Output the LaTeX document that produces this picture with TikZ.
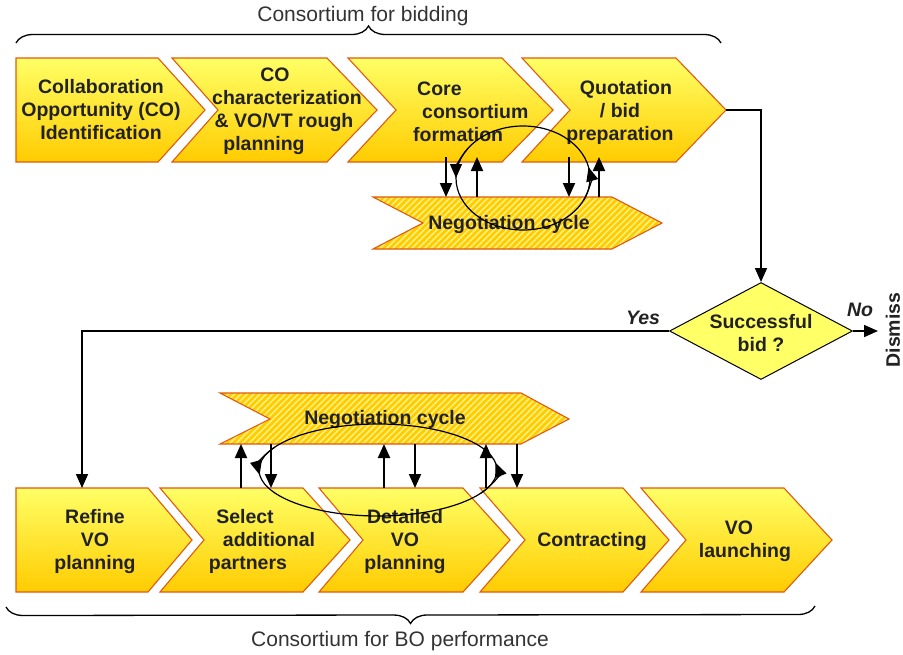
\documentclass[tikz,border=0pt]{standalone}
\usepackage{fontspec}
\setmainfont{Liberation Sans}
\usetikzlibrary{arrows.meta,shapes.geometric,patterns.meta,decorations.pathreplacing,calc}
\definecolor{chevtop}{HTML}{FFFF66}
\definecolor{chevmid}{HTML}{FFEE33}
\definecolor{chevbot}{HTML}{FFCC00}
\definecolor{chevline}{HTML}{E05A10}
\definecolor{txt}{HTML}{222222}
\definecolor{hatchbg}{HTML}{FFCC00}
\definecolor{hatchln}{HTML}{FFF080}
\definecolor{diafill}{HTML}{FFFF66}
\definecolor{labtxt}{HTML}{333333}
\begin{document}
\begin{tikzpicture}[x=1pt,y=-1pt,
  chev/.style={draw=chevline, line width=1.1pt, top color=chevtop, middle color=chevmid, bottom color=chevbot, line join=miter},
  hatchfill/.style={fill=hatchbg},
  hatchlines/.style={pattern={Lines[angle=45,distance=4.5pt,line width=1.6pt]}, pattern color=hatchln},
  hatchedge/.style={draw=chevline, line width=1.1pt},
  lbl/.style={font=\fontsize{19.5}{23}\selectfont\bfseries, text=txt, align=center, inner sep=0pt},
  captext/.style={font=\fontsize{21}{25}\selectfont, text=labtxt, inner sep=0pt},
  flow/.style={draw=black, line width=1.6pt},
  flowarrow/.style={flow, -{Triangle[length=14pt,width=12pt]}},
  varrow/.style={draw=black, line width=2pt, -{Triangle[length=14pt,width=12pt]}},
  cyc/.style={ellipse, draw=black, line width=1.2pt, inner sep=0pt},
  eltip/.style={draw=black, line width=1.2pt, -{Triangle[length=14pt,width=12pt]}},
  bracestyle/.style={draw=black, line width=1.3pt, decorate, decoration={brace, amplitude=17pt}}
]
\useasboundingbox (0,0) rectangle (903,654);

% ---------- braces ----------
\coordinate (brTL) at (16,43);
\coordinate (brTR) at (721,43);
\draw[bracestyle] (brTL) -- (brTR);
\node[captext] (capTop) at (363,16) {Consortium for bidding};
\coordinate (brBR) at (815,606);
\coordinate (brBL) at (6,607);
\draw[bracestyle] (brBR) -- (brBL);
\node[captext] (capBot) at (400,641) {Consortium for BO performance};

% ---------- top row chevrons ----------
\path[chev] (16,58) -- (158,58) -- (205,110) -- (158,162) -- (16,162) -- cycle;
\path[chev] (172,58) -- (327,58) -- (377,110) -- (327,162) -- (172,162) -- (218,110) -- cycle;
\path[chev] (348,58) -- (502,58) -- (553,110) -- (502,162) -- (348,162) -- (396,110) -- cycle;
\path[chev] (522,58) -- (676,58) -- (726,110) -- (676,162) -- (522,162) -- (570,110) -- cycle;
\coordinate (c4tip) at (726,110);

\node[lbl] (t1) at (101,110) {Collaboration\\Opportunity (CO)\\Identification};
\node[lbl] (t2) at (284,111) {CO\hspace*{18pt}\\\hspace*{6pt}characterization\\\& VO/VT rough\\planning\hspace*{40pt}};
\node[lbl, align=left, anchor=west] (t3) at (413,112) {\hspace*{4pt}Core\\\hspace*{9pt}consortium\\formation};
\node[lbl] (t4) at (620,112) {\hspace*{12pt}Quotation\\/ bid\hspace*{10pt}\\preparation};

% ---------- top negotiation cycle ----------
\def\negtop{(373,197) -- (612,197) -- (662,223) -- (612,249) -- (373,249) -- (423,223) -- cycle}
\fill[hatchfill] \negtop;
\fill[hatchlines] \negtop;
\draw[hatchedge] \negtop;
\node[lbl] (n1) at (509,224) {Negotiation cycle};

% ---------- bottom row chevrons ----------
\path[chev] (16,488) -- (148,488) -- (192,540) -- (148,592) -- (16,592) -- cycle;
\path[chev] (160,488) -- (303,488) -- (350,540) -- (303,592) -- (160,592) -- (204,540) -- cycle;
\path[chev] (319,488) -- (463,488) -- (510,540) -- (463,592) -- (319,592) -- (363,540) -- cycle;
\path[chev] (480,488) -- (623,488) -- (669,540) -- (623,592) -- (480,592) -- (525,540) -- cycle;
\path[chev] (641,488) -- (784,488) -- (832,540) -- (784,592) -- (641,592) -- (686,540) -- cycle;
\coordinate (b1top) at (82,488);

\node[lbl] (s1) at (95,541) {Refine\\VO\\planning};
\node[lbl] (s2) at (255,541) {Select\hspace*{20pt}\\\hspace*{28pt}additional\\partners\hspace*{14pt}};
\node[lbl] (s3) at (405,541) {Detailed\\VO\\planning};
\node[lbl] (s4) at (592,541) {Contracting};
\node[lbl] (s5) at (745,541) {VO\hspace*{12pt}\\launching};

% ---------- bottom negotiation cycle ----------
\def\negbot{(220,393) -- (521,393) -- (569,419) -- (521,444) -- (220,444) -- (270,419) -- cycle}
\fill[hatchfill] \negbot;
\fill[hatchlines] \negbot;
\draw[hatchedge] \negbot;
\node[lbl] (n2) at (385,419) {Negotiation cycle};

% ---------- decision ----------
\node[diamond, draw=black, line width=1pt, fill=diafill, minimum width=183pt, minimum height=97pt, inner sep=0pt] (dia) at (761,331) {};
\node[lbl] (dtext) at (761,333) {Successful\\bid ?};
\node[lbl, font=\fontsize{19.5}{23}\selectfont\bfseries\itshape] (yes) at (643,318) {Yes};
\node[lbl, font=\fontsize{19.5}{23}\selectfont\bfseries\itshape] (no) at (860,310) {No};
\node[lbl, rotate=90] (dismiss) at (893,330) {Dismiss};
\coordinate (noend) at (878,331);

\draw[flowarrow] (c4tip) -| (dia.north);
\draw[flowarrow] (dia.west) -| (b1top);
\draw[flowarrow] (dia.east) -- (noend);

% ---------- vertical arrows (top) ----------
\coordinate (ta1) at (446,157); \coordinate (tb1) at (446,197);
\coordinate (ta2) at (477,157); \coordinate (tb2) at (477,197);
\coordinate (ta3) at (569,157); \coordinate (tb3) at (569,197);
\coordinate (ta4) at (599,157); \coordinate (tb4) at (599,197);
\draw[varrow] (ta1) -- (tb1);
\draw[varrow] (tb2) -- (ta2);
\draw[varrow] (ta3) -- (tb3);
\draw[varrow] (tb4) -- (ta4);

% ---------- vertical arrows (bottom) ----------
\coordinate (ba1) at (241,444); \coordinate (bb1) at (241,488);
\coordinate (ba2) at (271,444); \coordinate (bb2) at (271,488);
\coordinate (ba3) at (384,444); \coordinate (bb3) at (384,488);
\coordinate (ba4) at (415,444); \coordinate (bb4) at (415,488);
\coordinate (ba5) at (486,444); \coordinate (bb5) at (486,488);
\coordinate (ba6) at (517,444); \coordinate (bb6) at (517,488);
\draw[varrow] (bb1) -- (ba1);
\draw[varrow] (ba2) -- (bb2);
\draw[varrow] (bb3) -- (ba3);
\draw[varrow] (ba4) -- (bb4);
\draw[varrow] (bb5) -- (ba5);
\draw[varrow] (ba6) -- (bb6);

% ---------- negotiation ellipses ----------
\node[cyc, minimum width=134pt, minimum height=104pt] (cyc1) at (523,178) {};
\draw[eltip] ($(cyc1.center)+(145:67pt and 52pt)$) arc[start angle=145, end angle=180, x radius=67pt, y radius=52pt];
\draw[eltip] ($(cyc1.center)+(-25:67pt and 52pt)$) arc[start angle=-25, end angle=12, x radius=67pt, y radius=52pt];

\node[cyc, minimum width=238pt, minimum height=92pt] (cyc2) at (378,470) {};
\draw[eltip] ($(cyc2.center)+(150:119pt and 46pt)$) arc[start angle=150, end angle=186, x radius=119pt, y radius=46pt];
\draw[eltip] ($(cyc2.center)+(-30:119pt and 46pt)$) arc[start angle=-30, end angle=9, x radius=119pt, y radius=46pt];
\end{tikzpicture}
\end{document}
